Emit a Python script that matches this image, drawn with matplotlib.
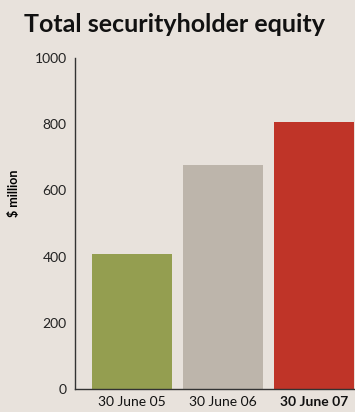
import matplotlib
matplotlib.use("Agg")
import matplotlib.pyplot as plt

categories = ["30 June 05", "30 June 06", "30 June 07"]
values = [408, 677, 806]
colors = ["#949E50", "#BDB5AB", "#BF3428"]
yticks = [0, 200, 400, 600, 800, 1000]

bg = "#E8E2DC"
plt.rcParams["font.family"] = ["Lato", "DejaVu Sans"]

fig = plt.figure(figsize=(3.55, 4.12), dpi=100, facecolor=bg)
ax = fig.add_axes([75 / 355, 1 - 389 / 412, 280 / 355, 331 / 412])
ax.set_facecolor(bg)

x = range(len(categories))
ax.bar(x, values, width=0.88, color=colors, zorder=2)

ax.set_xlim(-0.63, 2.45)
ax.set_ylim(0, 1000)
ax.set_yticks(yticks)
ax.set_yticklabels([str(v) for v in yticks], fontsize=10, color="#222222")
ax.set_xticks(list(x))
ax.set_xticklabels(categories, fontsize=10, color="#111111")
ax.get_xticklabels()[-1].set_fontweight("bold")
ax.tick_params(axis="both", length=0)
ax.tick_params(axis="y", pad=6)
ax.tick_params(axis="x", pad=5)

for side in ("top", "right"):
    ax.spines[side].set_visible(False)
for side in ("left", "bottom"):
    ax.spines[side].set_color("#333333")
    ax.spines[side].set_linewidth(1.0)

ax.set_ylabel("$ million", fontsize=9, fontweight="bold")
ax.yaxis.set_label_coords(-55 / 280, 0.59)

fig.text(175 / 355, 1 - 24 / 412, "Total securityholder equity",
         ha="center", va="center", fontsize=18, fontweight="bold", color="#111111")

fig.savefig("out.png", dpi=100, facecolor=bg)
